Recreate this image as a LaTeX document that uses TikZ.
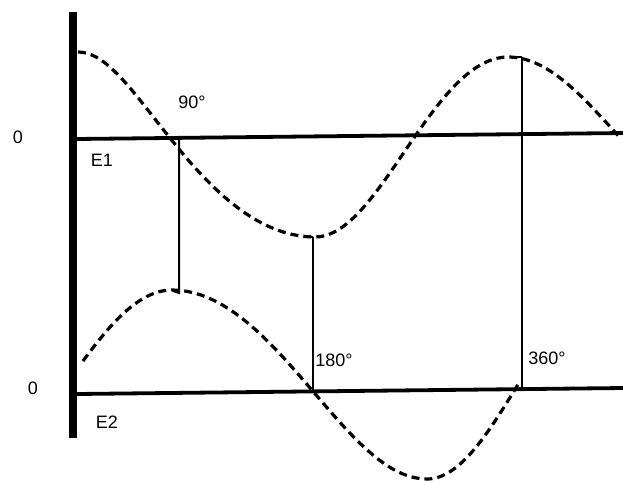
\documentclass[tikz,border=0pt]{standalone}
\usepackage{fontspec}
\setmainfont{Liberation Sans}
\usepackage{tikz}
\usetikzlibrary{calc}
\tikzset{
  axisline/.style={line width=8.5pt, line cap=butt},
  baseline/.style={line width=3.8pt},
  marker/.style={line width=2pt},
  wave/.style={line width=3.2pt, dash pattern=on 8pt off 5pt},
  lbl/.style={inner sep=0pt, font=\fontsize{18}{20}\selectfont}
}
% half a cosine from extremum (#2,#3) to extremum (#4,#5), skew #6, t from #7 to #8
\newcommand{\halfwave}[8]{%
  #1 plot[domain=#7:#8, samples=40, variable=\t]
    ({#2+(#4-#2)*(\t+#6*sin(180*\t))}, {(#3+#5)/2+(#3-#5)/2*cos(180*\t)})}

\begin{document}
\begin{tikzpicture}[x=1pt, y=-1pt]
  \useasboundingbox (0,0) rectangle (623,480);

  % Reference points
  \coordinate (axtop) at (73,12);
  \coordinate (axbot) at (73,438);
  \coordinate (eoneL) at (77,139);
  \coordinate (eoneR) at (623,133);
  \coordinate (etwoL) at (77,394);
  \coordinate (etwoR) at (623,388);

  % Draw axes
  \draw[axisline] (axtop) -- (axbot);
  \draw[baseline] (eoneL) -- (eoneR);
  \draw[baseline] (etwoL) -- (etwoR);

  % Plot E1 (cosine)
  \draw[wave] \halfwave{}{78}{52}{315}{237}{-0.09}{0}{1}
    \halfwave{--}{315}{237}{508}{57}{-0.02}{0}{1}
    \halfwave{--}{508}{57}{720}{205}{0}{0}{0.52};

  % Plot E2 (sine)
  \draw[wave] \halfwave{}{-40}{479}{172}{290}{0}{0.58}{1}
    \halfwave{--}{172}{290}{427}{479}{0.03}{0}{1}
    \halfwave{--}{427}{479}{609}{290}{0}{0}{0.5};

  % Phase markers
  \coordinate (m90top) at (179,139);
  \coordinate (m90bot) at (179,293);
  \coordinate (m180top) at (313,237);
  \coordinate (m180bot) at (313,392);
  \coordinate (m360top) at (522,57);
  \coordinate (m360bot) at (522,389);
  \draw[marker] (m90top) -- (m90bot) -- ++(-6,-2);
  \draw[marker] (m180top) -- (m180bot);
  \draw[marker] (m180top) -- ++(-5,0);
  \draw[marker] (m360top) -- (m360bot);
  \draw[marker] (m360top) -- ++(-6,0);

  % Labels
  \node[lbl] (zeroone) at (18,137) {0};
  \node[lbl] (zerotwo) at (33,388) {0};
  \node[lbl] (eone) at (102,160) {E1};
  \node[lbl] (etwo) at (107,422) {E2};
  \node[lbl] (deg90) at (192,102) {90°};
  \node[lbl] (deg180) at (334,360) {180°};
  \node[lbl] (deg360) at (547,358) {360°};
\end{tikzpicture}
\end{document}
